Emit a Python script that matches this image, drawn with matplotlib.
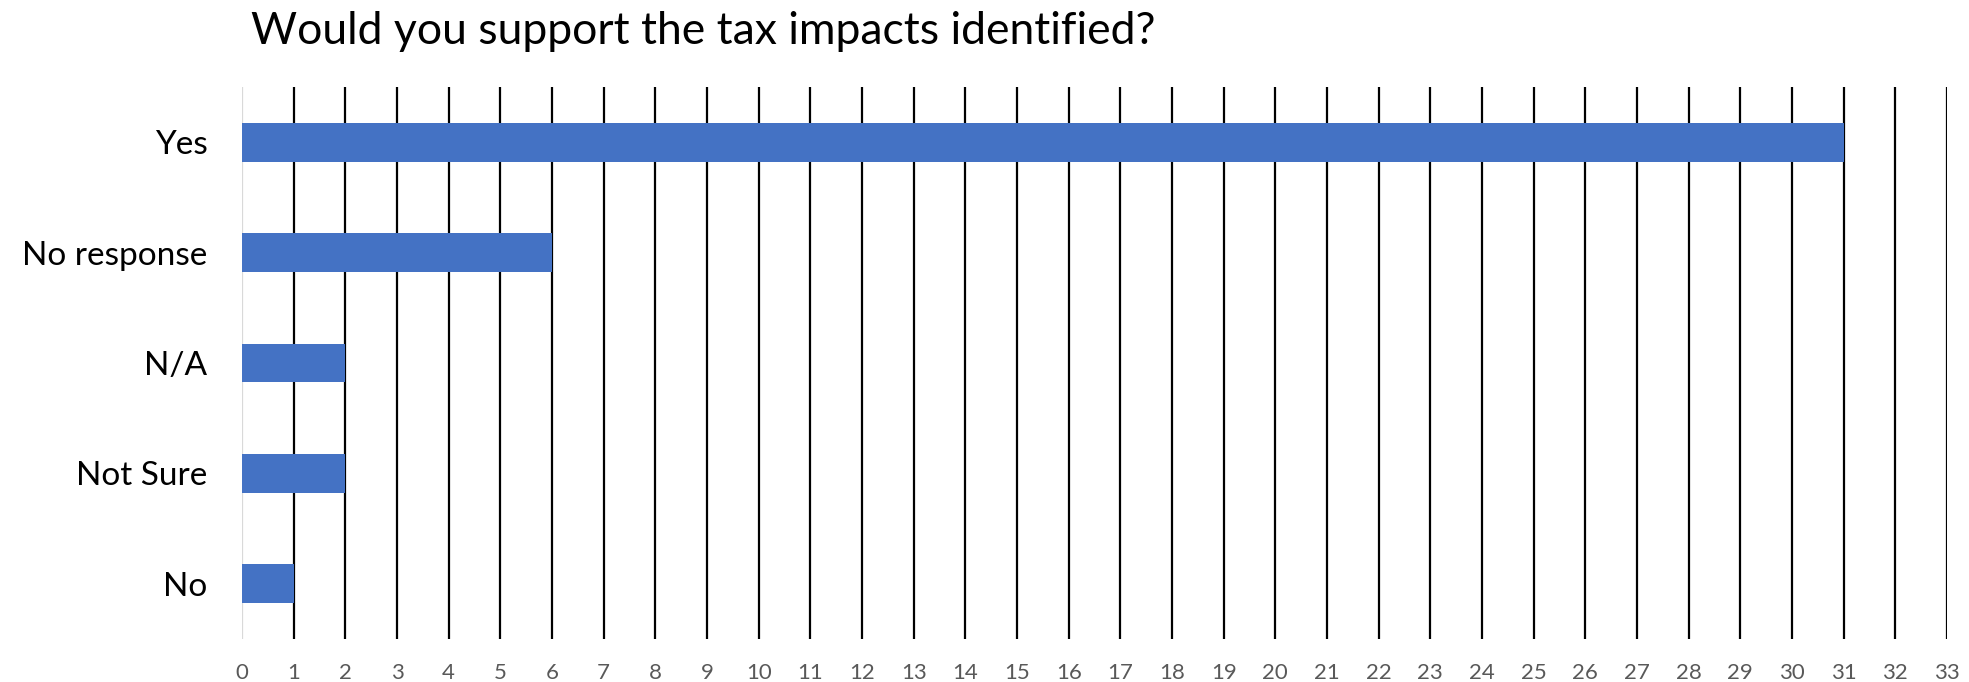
import numpy as np
import matplotlib.pyplot as plt

plt.rcParams['font.family'] = ['Lato', 'DejaVu Sans']

categories = ['Yes', 'No response', 'N/A', 'Not Sure', 'No']
counts = [31, 6, 2, 2, 1]
x_ticks = list(range(0, 34))

fig = plt.figure(figsize=(19.69, 6.82), dpi=100)
ax = fig.add_axes([242 / 1969, 1 - 639 / 682, (1947 - 242) / 1969, (639 - 87) / 682])

y = np.arange(len(categories))
ax.barh(y, counts, height=0.35, color='#4472C4', zorder=3)

ax.set_xlim(0, 33)
ax.set_ylim(len(categories) - 0.5, -0.5)
ax.set_yticks(y)
ax.set_yticklabels(categories, fontsize=24, color='black')
ax.set_xticks(x_ticks)
ax.set_xticklabels([str(t) for t in x_ticks], fontsize=16, color='#595959')
ax.tick_params(axis='both', length=0)
ax.tick_params(axis='y', pad=25)
ax.tick_params(axis='x', pad=17)

# vertical gridlines
for t in x_ticks[1:]:
    ax.axvline(t, color='black', lw=1.6, zorder=1)
ax.axvline(0, color='#d9d9d9', lw=1.6, zorder=2)

for s in ax.spines.values():
    s.set_visible(False)

fig.text(251 / 1969, 1 - 31 / 682, 'Would you support the tax impacts identified?',
         fontsize=32, va='center', ha='left')

fig.savefig('out.png', dpi=100)
